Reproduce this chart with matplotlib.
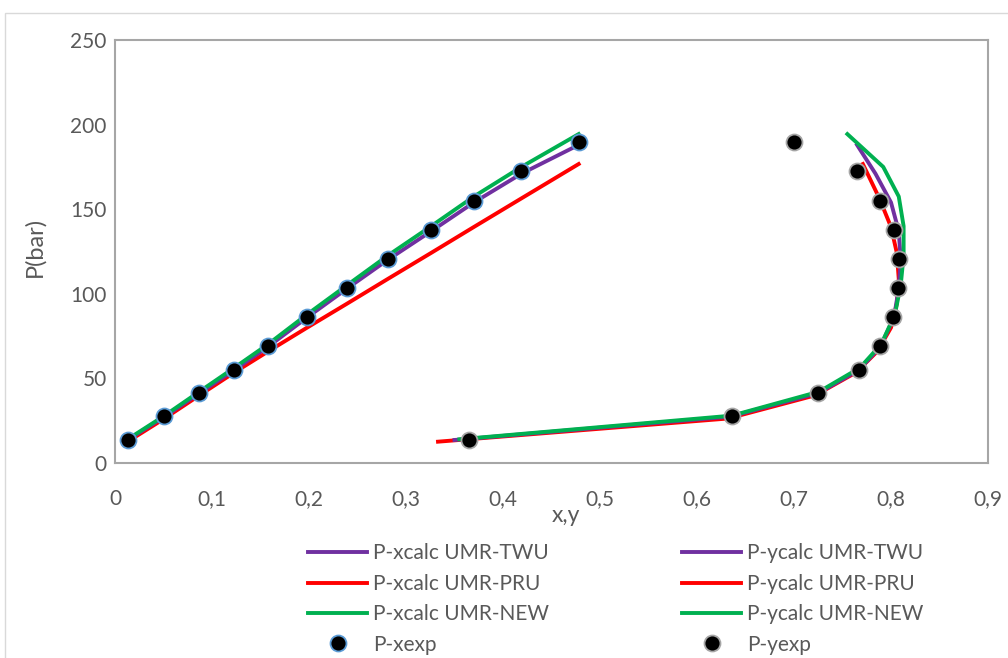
import matplotlib
matplotlib.use("Agg")
import matplotlib.pyplot as plt
from matplotlib.patches import Rectangle
from matplotlib.ticker import FuncFormatter

purple = "#7030A0"
red = "#FF0000"
green = "#00B050"
text_grey = "#595959"

# experimental bubble / dew points
x_exp = [0.013, 0.051, 0.087, 0.123, 0.158, 0.198, 0.239, 0.281, 0.326, 0.370, 0.419, 0.478]
y_exp = [0.365, 0.636, 0.725, 0.767, 0.789, 0.802, 0.807, 0.808, 0.803, 0.789, 0.765, 0.700]
p_exp = [13.8, 27.6, 41.4, 55.2, 69.0, 86.2, 103.4, 120.7, 137.9, 155.1, 172.4, 189.6]

# calculated pressures at the experimental liquid compositions
p_twu = [13.6, 27.4, 41.3, 55.0, 68.8, 86.0, 103.0, 120.0, 137.0, 154.0, 171.0, 188.0]
p_pru = [12.6, 26.3, 40.0, 53.5, 66.0, 80.0, 94.1, 108.7, 124.2, 139.5, 156.4, 176.7]
p_new = [14.0, 28.0, 42.2, 56.3, 70.3, 87.8, 105.0, 122.5, 140.0, 157.5, 175.0, 194.4]

# calculated vapour compositions
y_twu = [0.350, 0.634, 0.725, 0.767, 0.789, 0.803, 0.808, 0.810, 0.808, 0.800, 0.784, 0.765]
y_pru = [0.333, 0.632, 0.722, 0.764, 0.786, 0.800, 0.806, 0.808, 0.806, 0.800, 0.788, 0.771]
y_new = [0.355, 0.636, 0.726, 0.768, 0.790, 0.804, 0.810, 0.813, 0.813, 0.808, 0.792, 0.755]

plt.rcParams["font.family"] = ["Lato", "DejaVu Sans"]

fig = plt.figure(figsize=(10.08, 6.58), dpi=100)
fig.patches.append(Rectangle((5 / 1008, -0.05), 1.1, 1 - 13 / 658 + 0.05,
                             transform=fig.transFigure, fill=False,
                             edgecolor="#D9D9D9", linewidth=1.0))

ax = fig.add_axes([115 / 1008, 1 - 463 / 658, 873 / 1008, 423 / 658])

lw = 2.8
lx_twu, = ax.plot(x_exp, p_twu, color=purple, lw=lw, zorder=3, label="P-xcalc UMR-TWU")
ly_twu, = ax.plot(y_twu, p_twu, color=purple, lw=lw, zorder=3, label="P-ycalc UMR-TWU")
lx_pru, = ax.plot(x_exp, p_pru, color=red, lw=lw, zorder=2, label="P-xcalc UMR-PRU")
ly_pru, = ax.plot(y_pru, p_pru, color=red, lw=lw, zorder=2, label="P-ycalc UMR-PRU")
lx_new, = ax.plot(x_exp, p_new, color=green, lw=lw, zorder=4, label="P-xcalc UMR-NEW")
ly_new, = ax.plot(y_new, p_new, color=green, lw=lw, zorder=4, label="P-ycalc UMR-NEW")
mx, = ax.plot(x_exp, p_exp, "o", color="black", markersize=11.5, markeredgecolor="#5B9BD5",
              markeredgewidth=1.3, zorder=5, label="P-xexp")
my, = ax.plot(y_exp, p_exp, "o", color="black", markersize=11.5, markeredgecolor="#A5A5A5",
              markeredgewidth=1.3, zorder=5, label="P-yexp")

ax.set_xlim(0, 0.9)
ax.set_ylim(0, 250)
ax.set_xticks([i / 10 for i in range(10)])
ax.set_yticks(range(0, 251, 50))
ax.xaxis.set_major_formatter(FuncFormatter(lambda v, p: ("%g" % round(v, 1)).replace(".", ",")))
ax.tick_params(length=0, labelsize=15, colors=text_grey, pad=6)
ax.tick_params(axis="x", pad=19)
for s in ax.spines.values():
    s.set_color("#A6A6A6")
    s.set_linewidth(1.5)

ax.set_xlabel("x,y", fontsize=16.5, color=text_grey)
ax.xaxis.set_label_coords(0.516, -0.100)
ax.set_ylabel("P(bar)", fontsize=17, color=text_grey)
ax.yaxis.set_label_coords(-0.080, 0.51)

leg_kw = dict(frameon=False, fontsize=15, handlelength=2.8, handletextpad=0.3,
              labelspacing=0.5, borderpad=0, loc="upper left", labelcolor=text_grey)
fig.legend([lx_twu, lx_pru, lx_new, mx],
           [h.get_label() for h in [lx_twu, lx_pru, lx_new, mx]],
           bbox_to_anchor=(298 / 1008, 1 - 533 / 658), **leg_kw)
fig.legend([ly_twu, ly_pru, ly_new, my],
           [h.get_label() for h in [ly_twu, ly_pru, ly_new, my]],
           bbox_to_anchor=(672 / 1008, 1 - 533 / 658), **leg_kw)

fig.savefig("out.png", dpi=100)
